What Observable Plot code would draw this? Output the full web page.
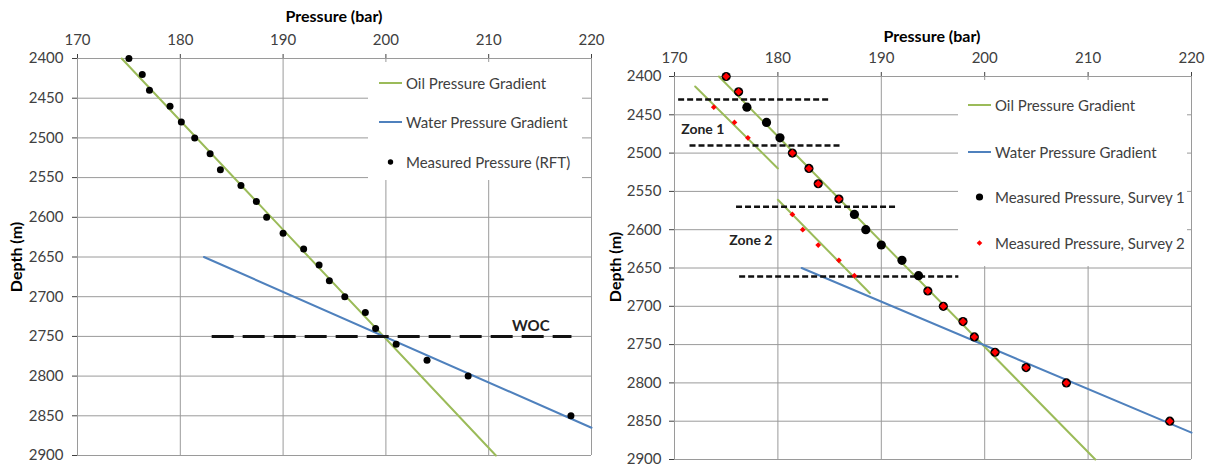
<!DOCTYPE html>
<html><head><meta charset="utf-8">
<script src="https://cdn.jsdelivr.net/npm/d3@7"></script>
<script src="https://cdn.jsdelivr.net/npm/@observablehq/plot@0.6"></script>
<style>
body{margin:0;background:#fff;font-family:Lato,sans-serif;}
#wrap{position:relative;width:1211px;height:465px;overflow:hidden;background:#fff;}
.panel{position:absolute;top:0;}
.title{position:absolute;font-weight:bold;font-size:16px;color:#000;transform:translate(-50%,-50%);white-space:nowrap;}
.ylab{position:absolute;font-weight:bold;font-size:16px;color:#000;transform:translate(-50%,-50%) rotate(-90deg);white-space:nowrap;}
.legend{position:absolute;background:#fff;}
.item{position:absolute;display:flex;align-items:center;font-size:15px;color:#404040;white-space:nowrap;transform:translateY(-50%);}
.item svg{margin-right:3px;}
</style></head>
<body>
<div id="wrap"></div>
<script>
// ---- data ----
const depth = [2400,2420,2440,2460,2480,2500,2520,2540,2560,2580,2600,2620,2640,2660,2680,2700,2720,2740,2760,2780,2800,2850];
const pressureRFT = [175,176.3,177,179,180.1,181.4,182.9,183.9,185.9,187.4,188.4,190,192,193.5,194.5,196,198,199,201,204,208,218];
const survey1 = [175,176.2,177,178.9,180.2,181.4,183,183.9,185.9,187.4,188.5,190,192,193.6,194.5,196,197.9,199,201,204,207.9,217.9];
const survey2 = [175,176.2,173.8,175.8,177.1,181.4,183,183.9,185.9,181.4,182.4,183.9,185.9,187.4,194.5,196,197.9,199,201,204,207.9,217.9];

const oilPressure = [174.3, 210.7];
const oilDepth = [2400, 2900];
const waterPressure = [182.3, 220];
const waterDepth = [2650, 2865];
const zone1Pressure = [172.0, 180.0];
const zone1Depth = [2413, 2520];
const zone2Pressure = [180.0, 188.9];
const zone2Depth = [2561, 2683];

const wocDepth = [2750];
const wocFrom = [183.1];
const wocTo = [218.1];
const wocLabel = ["WOC"];
const wocLabelP = [214.1];
const wocLabelD = [2737];

const zoneDashDepth = [2430, 2490, 2570, 2661];
const zoneDashFrom = [170.4, 171.5, 176.0, 176.3];
const zoneDashTo = [185.0, 186.2, 191.6, 197.5];
const zoneLabels = ["Zone 1", "Zone 2"];
const zoneLabelP = [170.65, 175.3];
const zoneLabelD = [2469, 2614];

const xTicks = [170,180,190,200,210,220];
const yTicks = [2400,2450,2500,2550,2600,2650,2700,2750,2800,2850,2900];

// ---- tables ----
const pts = (xs, ys) => xs.map((x, i) => ({x, y: ys[i]}));
const rft = pts(pressureRFT, depth);
const s1 = pts(survey1, depth);
const s2 = survey2.map((x, i) => ({x, y: depth[i], overlap: x === survey1[i]}));
const dashes = zoneDashDepth.map((y, i) => ({y, x1: zoneDashFrom[i], x2: zoneDashTo[i]}));
const woc = wocDepth.map((y, i) => ({y, x1: wocFrom[i], x2: wocTo[i]}));

const GRID = "#9a9a9a", GREEN = "#9BBB59", BLUE = "#4F81BD", RED = "#FF0000";
const fmt = d => String(d);

function base(opts, marks) {
  return Plot.plot({
    ...opts,
    x: {domain: [170, 220], axis: "top", ticks: xTicks, tickSize: 5, tickPadding: opts.xPad, label: null, tickFormat: fmt},
    y: {domain: [2400, 2900], reverse: true, ticks: yTicks, tickSize: 5, tickPadding: opts.yPad, label: null, tickFormat: fmt},
    style: {fontFamily: "Lato, sans-serif", fontSize: "15px", color: "#404040", background: "transparent", overflow: "visible"},
    marks: [
      Plot.ruleX(xTicks, {stroke: GRID, strokeWidth: 1}),
      Plot.ruleY(yTicks, {stroke: GRID, strokeWidth: 1}),
      ...marks
    ]
  });
}

const wrap = document.getElementById("wrap");

// LEFT PANEL
const left = base({width: 600, height: 465, marginLeft: 77, marginRight: 9, marginTop: 58, marginBottom: 10, xPad: 9, yPad: 9}, [
  Plot.line(pts(oilPressure, oilDepth), {x: "x", y: "y", stroke: GREEN, strokeWidth: 2}),
  Plot.line(pts(waterPressure, waterDepth), {x: "x", y: "y", stroke: BLUE, strokeWidth: 2}),
  Plot.ruleY(woc, {y: "y", x1: "x1", x2: "x2", stroke: "#111", strokeWidth: 3, strokeDasharray: "22,9"}),
  Plot.dot(rft, {x: "x", y: "y", r: 3.5, fill: "#000", stroke: "none"}),
  Plot.text(wocLabel, {x: (d, i) => wocLabelP[i], y: (d, i) => wocLabelD[i], text: d => d, fontWeight: "bold", fontSize: 15, fill: "#222"})
]);
left.classList.add("panel");
left.style.left = "0px";
wrap.appendChild(left);

// RIGHT PANEL
const right = base({width: 611, height: 465, marginLeft: 74, marginRight: 20, marginTop: 76, marginBottom: 6, xPad: 9, yPad: 8}, [
  Plot.line(pts(oilPressure, oilDepth), {x: "x", y: "y", stroke: GREEN, strokeWidth: 2}),
  Plot.line(pts(zone1Pressure, zone1Depth), {x: "x", y: "y", stroke: GREEN, strokeWidth: 2}),
  Plot.line(pts(zone2Pressure, zone2Depth), {x: "x", y: "y", stroke: GREEN, strokeWidth: 2}),
  Plot.line(pts(waterPressure, waterDepth), {x: "x", y: "y", stroke: BLUE, strokeWidth: 2}),
  Plot.ruleY(dashes, {y: "y", x1: "x1", x2: "x2", stroke: "#111", strokeWidth: 2.5, strokeDasharray: "6,3"}),
  Plot.dot(s1, {x: "x", y: "y", r: 4.6, fill: "#000", stroke: "none"}),
  Plot.dot(s2.filter(d => d.overlap), {x: "x", y: "y", r: 3.4, symbol: "diamond2", fill: RED, stroke: "none"}),
  Plot.dot(s2.filter(d => !d.overlap), {x: "x", y: "y", r: 2.6, symbol: "diamond2", fill: RED, stroke: "none"}),
  Plot.text(zoneLabels, {x: (d, i) => zoneLabelP[i], y: (d, i) => zoneLabelD[i], text: d => d, textAnchor: "start", fontWeight: "bold", fontSize: 14, fill: "#222"})
]);
right.classList.add("panel");
right.style.left = "600px";
wrap.appendChild(right);

// ---- titles ----
function addText(cls, text, x, y) {
  const d = document.createElement("div");
  d.className = cls; d.textContent = text;
  d.style.left = x + "px"; d.style.top = y + "px";
  wrap.appendChild(d);
}
addText("title", "Pressure (bar)", 334, 15);
addText("title", "Pressure (bar)", 932, 35);
addText("ylab", "Depth (m)", 15, 257);
addText("ylab", "Depth (m)", 614, 267);

// ---- legends ----
function legendBox(x, y, w, h) {
  const d = document.createElement("div");
  d.className = "legend";
  Object.assign(d.style, {left: x + "px", top: y + "px", width: w + "px", height: h + "px"});
  wrap.appendChild(d);
}
function legendItem(x, y, sym, label) {
  const d = document.createElement("div");
  d.className = "item";
  d.style.left = x + "px"; d.style.top = y + "px";
  d.innerHTML = `<svg width="24" height="12" viewBox="0 0 24 12">${sym}</svg><span>${label}</span>`;
  wrap.appendChild(d);
}
const lineSym = c => `<line x1="0" x2="23" y1="6" y2="6" stroke="${c}" stroke-width="2"/>`;
const dotSym = (r) => `<circle cx="11.5" cy="6" r="${r}" fill="#000"/>`;
const diaSym = `<path d="M11.5,3.2L14.3,6L11.5,8.8L8.7,6Z" fill="${RED}"/>`;

legendBox(368, 62, 214, 118);
legendItem(379, 83, lineSym(GREEN), "Oil Pressure Gradient");
legendItem(379, 122, lineSym(BLUE), "Water Pressure Gradient");
legendItem(379, 162, dotSym(2.7), "Measured Pressure (RFT)");

legendBox(958, 80, 229, 186);
legendItem(968, 105, lineSym(GREEN), "Oil Pressure Gradient");
legendItem(968, 152, lineSym(BLUE), "Water Pressure Gradient");
legendItem(968, 197, dotSym(3.6), "Measured Pressure, Survey 1");
legendItem(968, 243, diaSym, "Measured Pressure, Survey 2");
</script>
</body></html>
